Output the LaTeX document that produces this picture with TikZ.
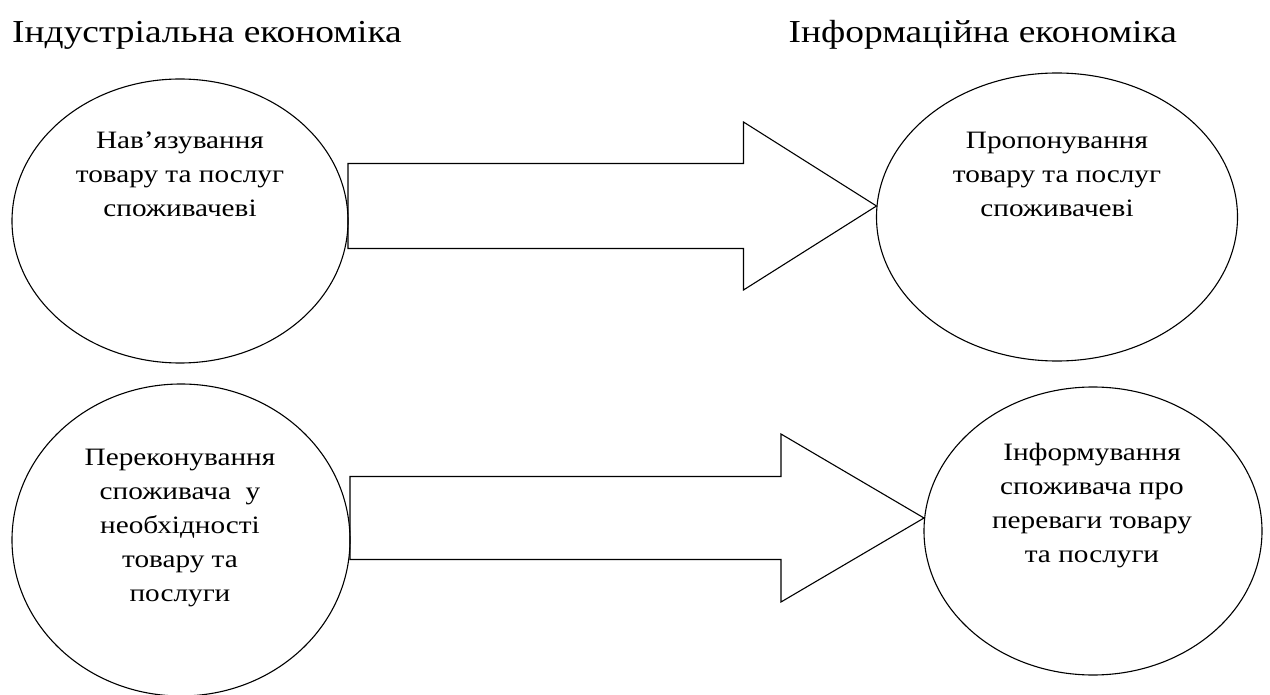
\documentclass[tikz,border=0pt]{standalone}
\usepackage{fontspec}
\setmainfont{Liberation Serif}[FakeStretch=1.17]
\usetikzlibrary{shapes.geometric,calc}
\tikzset{
  oval/.style={ellipse, draw, line width=1.1pt, inner sep=0pt, outer sep=0pt},
  heading/.style={font=\fontsize{32}{38}\selectfont, inner sep=0pt},
  blockarrow/.style={draw, line width=1.1pt, line join=miter},
  caption/.style={inner sep=0pt, anchor=base}
}
% centred multi-line text whose reference point is the first baseline
\newcommand{\ovaltext}[1]{\parbox[t]{340pt}{\centering\fontsize{25}{34}\selectfont #1}}

\begin{document}
\begin{tikzpicture}[x=1pt,y=-1pt]
\useasboundingbox (0,0) rectangle (1270,695);
\fill[white] (0,0) rectangle (1270,695);

% headings
\node[heading, anchor=base west] (hl) at (12,43) {Індустріальна економіка};
\node[heading, anchor=base east] (hr) at (1177,43) {Інформаційна економіка};

% ovals
\node[oval, minimum width=336pt, minimum height=284pt] (e1) at (180,221) {};
\node[oval, minimum width=361pt, minimum height=288pt] (e2) at (1057,217) {};
\node[oval, minimum width=338pt, minimum height=312pt] (e3) at (181,540) {};
\node[oval, minimum width=338pt, minimum height=288pt] (e4) at (1093,531) {};

% texts inside the ovals
\node[caption] (t1) at (180,149) {\ovaltext{Нав’язування\\товару та послуг\\споживачеві}};
\node[caption] (t2) at (1057,149) {\ovaltext{Пропонування\\товару та послуг\\споживачеві}};
\node[caption] (t3) at (180,465) {\ovaltext{Переконування\\споживача\ \ у\\необхідності\\товару та\\послуги}};
\node[caption] (t4) at (1092,460) {\ovaltext{Інформування\\споживача про\\переваги товару\\та послуги}};

% block arrows between the ovals
\coordinate (a1s) at (e1.east |- 0,206);
\coordinate (a1t) at (e2.west |- 0,206);
\draw[blockarrow]
  ($(a1s)+(0,-42.5)$) -- ($(a1t)+(-133,-42.5)$) -- ($(a1t)+(-133,-84)$) -- (a1t)
  -- ($(a1t)+(-133,84)$) -- ($(a1t)+(-133,42.5)$) -- ($(a1s)+(0,42.5)$) -- cycle;

\coordinate (a2s) at (e3.east |- 0,518);
\coordinate (a2t) at (e4.west |- 0,518);
\draw[blockarrow]
  ($(a2s)+(0,-41.5)$) -- ($(a2t)+(-143,-41.5)$) -- ($(a2t)+(-143,-84)$) -- (a2t)
  -- ($(a2t)+(-143,84)$) -- ($(a2t)+(-143,41.5)$) -- ($(a2s)+(0,41.5)$) -- cycle;
\end{tikzpicture}
\end{document}
